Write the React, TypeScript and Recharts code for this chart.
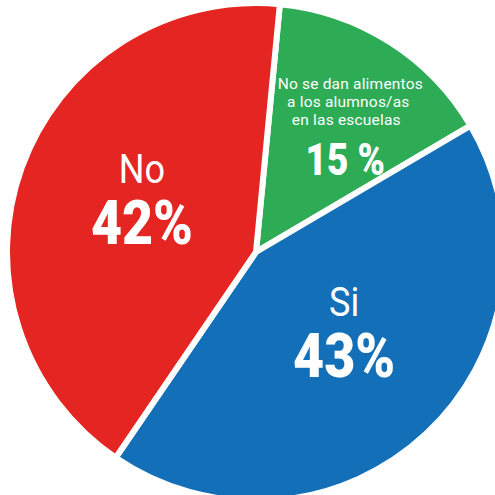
import React from "react";
import { PieChart, Pie, Cell } from "recharts";

// slices, clockwise from the top
const categories = [
  ["No se dan alimentos", "a los alumnos/as", "en las escuelas"],
  ["Si"],
  ["No"],
];
const values = [15, 43, 42];
const valueLabels = ["15 %", "43%", "42%"];
const colors = ["#2DAB55", "#136FB7", "#E42521"];

const data = values.map((v, i) => ({
  name: categories[i].join(" "),
  value: v,
  lines: categories[i],
  valueLabel: valueLabels[i],
  color: colors[i],
}));

const RAD = Math.PI / 180;
const FONT = "Roboto, 'DejaVu Sans Condensed', sans-serif";

// condensed text: squeeze horizontally around its anchor
function Narrow({ x, y, sx, children, ...rest }: any) {
  return (
    <text transform={`translate(${x},${y}) scale(${sx},1)`} x={0} y={0} {...rest}>
      {children}
    </text>
  );
}

function SliceLabel(props: any) {
  const { cx, cy, midAngle, outerRadius, payload } = props;
  const lines: string[] = payload.lines;
  const small = lines.length > 1;
  const r = outerRadius * (small ? 0.66 : 0.5);
  const x = cx + r * Math.cos(-midAngle * RAD);
  const y = cy + r * Math.sin(-midAngle * RAD);

  if (small) {
    return (
      <g fill="#fff" fontFamily={FONT} textAnchor="middle">
        {lines.map((l, i) => (
          <text key={i} x={x + 6 - i * 2} y={y - 24 + i * 18} fontSize={15.5} letterSpacing={0.2}>
            {l}
          </text>
        ))}
        <Narrow x={x + 1} y={y + 62} sx={0.84} fontSize={44} fontWeight={900}>
          {payload.valueLabel}
        </Narrow>
      </g>
    );
  }
  return (
    <g fill="#fff" fontFamily={FONT} textAnchor="middle">
      <Narrow x={x + 3} y={y - 27} sx={0.88} fontSize={41}>
        {lines[0]}
      </Narrow>
      <Narrow x={x + 3} y={y + 34} sx={0.88} fontSize={61} fontWeight={900}>
        {payload.valueLabel}
      </Narrow>
    </g>
  );
}

export default function App() {
  return (
    <div style={{ position: "absolute", left: 0, top: 0, width: 495, height: 495, overflow: "hidden", background: "#fff" }}>
      <PieChart width={495} height={495} margin={{ top: 0, right: 0, bottom: 0, left: 0 }}>
        <Pie
          data={data}
          dataKey="value"
          nameKey="name"
          cx={256}
          cy={252}
          innerRadius={0}
          outerRadius={249}
          startAngle={84.5}
          endAngle={-275.5}
          stroke="#fff"
          strokeWidth={6}
          label={SliceLabel}
          labelLine={false}
          isAnimationActive={false}
        >
          {data.map((d, i) => (
            <Cell key={i} fill={d.color} />
          ))}
        </Pie>
      </PieChart>
    </div>
  );
}
